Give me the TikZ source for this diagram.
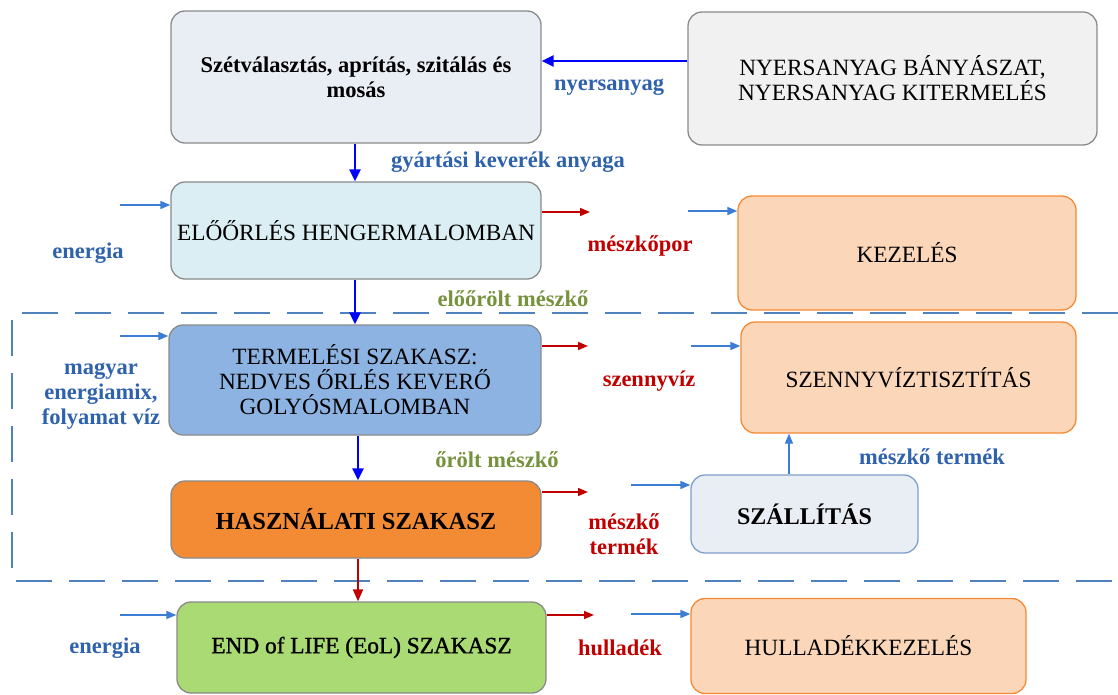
\documentclass[tikz,border=0pt]{standalone}
\usepackage{fontspec}
\setmainfont{Liberation Serif}
\newfontfamily\semibold[FakeBold=1.2]{Liberation Serif}
\usetikzlibrary{arrows.meta}

\definecolor{edgegray}{HTML}{8A8A8A}
\definecolor{fillgrayblue}{HTML}{E9EDF4}
\definecolor{fillgray}{HTML}{F1F1F1}
\definecolor{fillcyan}{HTML}{DBEEF3}
\definecolor{fillpeach}{HTML}{FBD6B8}
\definecolor{edgeorange}{HTML}{F48A35}
\definecolor{fillblue}{HTML}{8DB3E2}
\definecolor{fillorange}{HTML}{F38B34}
\definecolor{fillgreen}{HTML}{A9DA74}
\definecolor{edgesteel}{HTML}{7F9FCB}
\definecolor{dashblue}{HTML}{4F81BD}
\definecolor{flowblue}{HTML}{0000FF}
\definecolor{thinblue}{HTML}{3C7DD6}
\definecolor{flowred}{HTML}{C00000}
\definecolor{labblue}{HTML}{2F62AC}
\definecolor{labgreen}{HTML}{76923C}

\begin{document}
\begin{tikzpicture}[x=1pt,y=-1pt,
  every node/.style={font=\fontsize{23.3}{25}\selectfont, align=center},
  proc/.style={draw=edgegray, line width=1.3pt, rounded corners=14pt, inner sep=0pt},
  side/.style={draw=edgeorange, line width=1.3pt, rounded corners=14pt, inner sep=0pt, fill=fillpeach},
  mainflow/.style={draw=flowblue, line width=2.4pt, -{Triangle[length=12pt,width=11pt]}},
  inflow/.style={draw=thinblue, line width=1.5pt, -{Triangle[length=10pt,width=8pt]}},
  outflow/.style={draw=flowred, line width=1.5pt, -{Triangle[length=10pt,width=8pt]}},
  redflow/.style={draw=flowred, line width=2pt, -{Triangle[length=12pt,width=10pt]}},
  bluelab/.style={text=labblue, font=\fontsize{22.5}{25}\selectfont\bfseries},
  greenlab/.style={text=labgreen, font=\fontsize{22.5}{25}\selectfont\bfseries},
  redlab/.style={text=flowred, font=\fontsize{22.5}{25}\selectfont\bfseries},
  stage/.style={draw=dashblue, line width=2.2pt, dash pattern=on 36pt off 17pt}
]
\useasboundingbox (0,0) rectangle (1118,695);

% stage frame
\draw[stage] (1118,313) -- (12,313) -- (12,581) -- (1118,581);

% process boxes
\node[proc, fill=fillgrayblue, minimum width=370pt, minimum height=132pt] (b1) at (356,77)
  {\fontsize{22.5}{25}\selectfont\bfseries Szétválasztás, aprítás, szitálás és\\\fontsize{22.5}{25}\selectfont\bfseries mosás};
\node[proc, fill=fillgray, minimum width=409pt, minimum height=133pt] (b2) at (892.5,78.5)
  {NYERSANYAG BÁNYÁSZAT,\\NYERSANYAG KITERMELÉS};
\node[proc, fill=fillcyan, minimum width=370pt, minimum height=97pt] (b3) at (356,230.5)
  {ELŐŐRLÉS HENGERMALOMBAN};
\node[side, minimum width=338pt, minimum height=114pt] (b4) at (907,253)
  {KEZELÉS};
\node[proc, fill=fillblue, minimum width=372pt, minimum height=110pt] (b5) at (355,380)
  {TERMELÉSI SZAKASZ:\\NEDVES ŐRLÉS KEVERŐ\\GOLYÓSMALOMBAN};
\node[side, minimum width=335pt, minimum height=111pt] (b6) at (908.5,377.5)
  {SZENNYVÍZTISZTÍTÁS};
\node[proc, fill=fillorange, minimum width=370pt, minimum height=77pt] (b7) at (356,519.5)
  {\fontsize{24.5}{26}\selectfont\bfseries HASZNÁLATI SZAKASZ};
\node[proc, draw=edgesteel, fill=fillgrayblue, minimum width=227pt, minimum height=78pt] (b8) at (804.5,514)
  {\fontsize{24}{26}\selectfont\bfseries SZÁLLÍTÁS};
\node[proc, fill=fillgreen, minimum width=369pt, minimum height=91pt] (b9) at (361.5,647.5)
  {\semibold END of LIFE (EoL) SZAKASZ};
\node[side, minimum width=335pt, minimum height=95pt] (b10) at (858.5,646)
  {HULLADÉKKEZELÉS};

% main material flow
\coordinate (ny) at (600,61);
\draw[mainflow] (ny -| b2.west) -- (ny -| b1.east);
\coordinate (c1) at (355,0);
\draw[mainflow] (c1 |- b1.south) -- (c1 |- b3.north);
\draw[mainflow] (c1 |- b3.south) -- (c1 |- b5.north);
\coordinate (c5) at (358,0);
\draw[mainflow] (c5 |- b5.south) -- (c5 |- b7.north);
\draw[redflow] (c5 |- b7.south) -- (c5 |- b9.north);
\coordinate (c8) at (789,0);
\draw[inflow] (c8 |- b8.north) -- (c8 |- b6.south);

% inputs
\coordinate (e1) at (120,205);
\draw[inflow] (e1) -- (e1 -| b3.west);
\coordinate (e2) at (120,336);
\draw[inflow] (e2) -- (e2 -| b5.west);
\coordinate (e3) at (120,615);
\draw[inflow] (e3) -- (e3 -| b9.west);
\coordinate (e4) at (688,211);
\draw[inflow] (e4) -- (e4 -| b4.west);
\coordinate (e5) at (691,346);
\draw[inflow] (e5) -- (e5 -| b6.west);
\coordinate (e6) at (631,485);
\draw[inflow] (e6) -- (e6 -| b8.west);
\coordinate (e7) at (631,614);
\draw[inflow] (e7) -- (e7 -| b10.west);

% outputs
\coordinate (o1) at (590,212);
\draw[outflow] (o1 -| b3.east) -- (o1);
\coordinate (o2) at (588,346);
\draw[outflow] (o2 -| b5.east) -- (o2);
\coordinate (o3) at (588,492);
\draw[outflow] (o3 -| b7.east) -- (o3);
\coordinate (o4) at (594,615);
\draw[outflow] (o4 -| b9.east) -- (o4);

% labels
\node[bluelab] (l1) at (609,87) {nyersanyag};
\node[bluelab] (l2) at (508,162) {gyártási keverék anyaga};
\node[bluelab] (l3) at (88,253) {energia};
\node[redlab] (l4) at (640,246) {mészkőpor};
\node[greenlab] (l5) at (513,299) {előőrölt mészkő};
\node[bluelab] (l6) at (101,396) {magyar\\energiamix,\\folyamat víz};
\node[redlab] (l7) at (649,381) {szennyvíz};
\node[greenlab] (l8) at (497,460) {őrölt mészkő};
\node[bluelab] (l9) at (932,457) {mészkő termék};
\node[redlab] (l10) at (624,534) {mészkő\\termék};
\node[bluelab] (l11) at (105,648) {energia};
\node[redlab] (l12) at (620,648) {hulladék};
\end{tikzpicture}
\end{document}
